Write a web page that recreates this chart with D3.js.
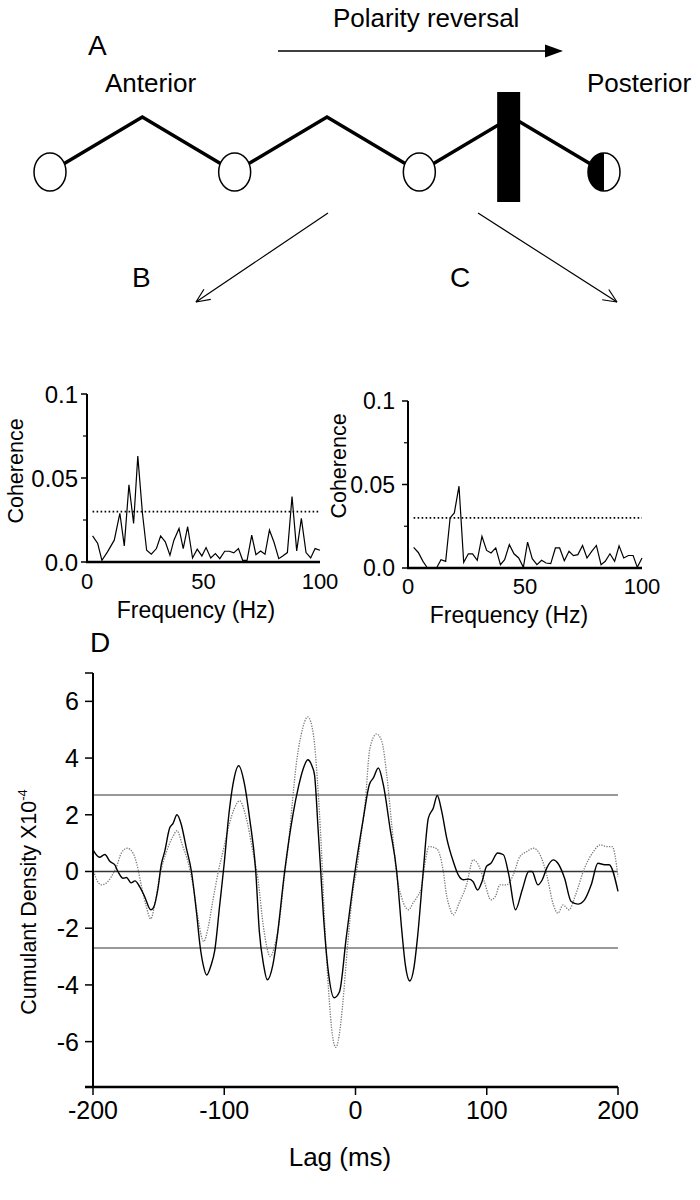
<!DOCTYPE html>
<html><head><meta charset="utf-8">
<script src="https://cdn.jsdelivr.net/npm/d3@7"></script>
<style>
body{margin:0;background:#fff}
svg{display:block}
text{font-family:"Liberation Sans",Arial,Helvetica,sans-serif;fill:#000}
</style>
</head><body>
<svg id="c" width="700" height="1200"></svg>
<script>
// ---------------- DATA ----------------
const electrodes = ["E1","E2","E3","E4"];
const diagramLabels = {title:"Polarity reversal", left:"Anterior", right:"Posterior"};
const panelLetters = ["A","B","C","D"];

const freqB = [2.4,4.6,6.4,8.8,11.7,14.1,16,18,20,21.8,23.8,25.6,27.6,29.8,31.6,33.6,35.6,37.3,39.5,41.3,43.2,45.3,47.3,49.3,51.1,53.1,55.1,57,59.1,61.1,63,65,66.8,68.7,70.7,72.5,74.5,76.4,78.3,80.3,82.3,84,86,88,90,92,94,96,97.9,100];
const cohB = [0.0155,0.011,0.001,0.006,0.013,0.029,0.0096,0.046,0.023,0.063,0.029,0.007,0.0046,0.008,0.0155,0.012,0.004,0.013,0.020,0.008,0.021,0.0024,0.0076,0.0036,0.0086,0.0024,0.005,0.002,0.0064,0.0064,0.0054,0.008,0.001,0.001,0.016,0.0044,0.0066,0.0046,0.019,0.0116,0.002,0.0036,0.0056,0.039,0.0066,0.026,0.0056,0.0024,0.008,0.007];

const freqC = [2.4,4.4,6.4,8.3,10.3,12.2,14.1,16.1,18,19.8,21.8,23.8,25.8,27.6,29.6,31.6,33.6,35.5,37.5,39.5,41.3,43.3,45.3,47.3,49.3,51.1,53.1,55.1,57.1,59,61,63,64.8,66.8,68.8,70.7,72.6,74.6,76.5,78.5,80.5,82.5,84.3,86.3,88.3,90.2,92.2,94.2,96.2,98,100];
const cohC = [0.0123,0.0093,0.004,0,0,0,0.005,0.004,0.030,0.033,0.049,0.0034,0.0085,0.0085,0.0046,0.019,0.0105,0.009,0.012,0.002,0.005,0.014,0.0085,0.006,0.0004,0.0155,0.0056,0.002,0.0046,0.003,0.0026,0.012,0.012,0.0044,0.010,0.0074,0.008,0.0135,0.006,0.010,0.0135,0.002,0.004,0.0085,0.004,0.0133,0.006,0.0075,0.0075,0.0004,0.006];

const cohSignificance = 0.03;
const cohTicks = [0, 0.05, 0.1];
const cohTickLabels = ["0.0", "0.05", "0.1"];
const cohMinorTicks = [0.025, 0.075];
const freqTicks = [0, 50, 100];

const lagSolid = [-200,-195,-191,-187,-183.5,-181,-177,-174.5,-171,-168,-164.5,-160.7,-156,-154,-150.5,-148,-145.4,-141.6,-139,-136,-132.7,-129,-125,-121,-118.5,-116,-113.4,-110,-107.3,-103.5,-100,-96.5,-93.4,-89,-84.5,-80.7,-76,-73.3,-70,-67.2,-63,-59.8,-54,-47.7,-43.4,-40,-36.3,-33,-31.2,-28.5,-26.5,-24.5,-20.7,-16.3,-12.2,-7.1,-0.4,6,10.5,13.6,17.4,21.2,26.3,31.4,35.3,38,41.4,44.5,47.2,51.6,55.5,59.3,62.3,65.7,69.5,74.5,78.3,82.1,86.2,89.5,93,96.4,99.8,103.2,108.3,112.7,116.8,121.9,127,132,134.5,138.9,142.3,145.7,150.8,154.2,159.3,164.3,169.4,174.5,179.6,184.7,189.8,193.2,200];
const cumSolid = [0.76,0.5,0.6,0.35,0.24,0,-0.24,-0.21,-0.4,-0.33,-0.53,-0.88,-1.35,-1.28,-0.6,0.24,0.7,1.53,1.7,2.0,1.65,0.85,0,-1.5,-2.6,-3.3,-3.65,-3.3,-2.8,-1.2,0.3,2.0,3.06,3.73,3.06,1.88,0,-2.1,-3.3,-3.82,-3.3,-2.35,0,2.0,3.0,3.6,3.94,3.7,3.4,1.5,0,-1.5,-3.53,-4.45,-4.24,-2.35,0,1.88,3.06,3.3,3.65,3.06,1.53,0,-2.1,-3.3,-3.86,-3.4,-2.35,0,1.88,2.24,2.68,2.12,1.18,0.35,-0.12,-0.29,-0.27,-0.35,-0.65,-0.35,0.18,0.29,0.65,0.59,-0.12,-1.35,-0.65,0,0,-0.47,-0.29,0.12,0.41,0.29,-0.24,-1.06,-1.15,-1.0,-0.47,0.29,0.24,0.24,-0.7];

const lagDotted = [-200,-198,-193.7,-190,-186,-182,-178.4,-174,-169.5,-166.5,-163,-159.4,-156,-153,-149,-144,-139,-136,-132,-127.7,-123.9,-120,-115.7,-112.4,-108.6,-104.5,-100,-96,-92.5,-88.3,-83.2,-78.2,-74.4,-70,-64.9,-61.5,-58,-54.5,-51,-48,-45.2,-41.4,-36.3,-32,-29,-26,-23.5,-20.5,-17.5,-15,-12.5,-10,-6,-2,1.4,4,7.2,11,16.1,20,23.8,27.6,31.4,35.3,40.4,44,47.2,50,53,56,62,66.9,69.3,72,74.4,79.4,84.6,89.6,93,98.1,103.2,106.6,110,115.1,120.2,125.3,130.4,135.5,140.6,145.7,150.8,154.2,158.2,162.6,167.7,174.5,181.3,186.4,191.5,195.6,200];
const cumDotted = [0.1,-0.2,-0.47,-0.41,-0.18,0.18,0.65,0.82,0.65,0.24,-0.53,-1.24,-1.67,-1.18,-0.12,0.7,1.24,1.44,0.94,0.35,-0.47,-1.65,-2.47,-2.0,-1.0,0,0.9,1.7,2.2,2.49,1.88,0.7,-0.24,-2.0,-3.0,-2.6,-1.76,-0.3,1.0,2.5,3.76,4.82,5.45,4.8,3.2,0.8,-1.8,-4.2,-5.8,-6.2,-5.8,-4.8,-2.6,-0.7,0.2,1.2,2.35,4.35,4.85,4.6,3.41,1.65,-0.12,-0.94,-1.35,-1.1,-0.88,-0.6,0.3,0.88,0.8,0,-0.82,-1.3,-1.53,-1.06,-0.47,0.41,0.29,-0.35,-1.0,-0.88,-0.47,-0.47,-0.12,0.53,0.7,0.82,0.59,-0.12,-1.18,-1.47,-1.18,-1.35,-0.82,0.12,0.7,0.94,0.88,0.88,-0.18];

const confidenceLimit = 2.7;
const cumTicks = [-6,-4,-2,0,2,4,6];
const lagTicks = [-200,-100,0,100,200];

// ---------------- DRAW ----------------
const svg = d3.select("#c");

// ===== Panel A: diagram =====
const gA = svg.append("g");
const ex = d3.scalePoint().domain(electrodes).range([50, 604]);
const eY = 172, peakY = 117;
const zz = [];
electrodes.forEach((e,i)=>{
  zz.push([ex(e), eY]);
  if(i < electrodes.length-1) zz.push([(ex(e)+ex(electrodes[i+1]))/2, peakY]);
});
gA.append("path").attr("d", d3.line()(zz)).attr("fill","none")
  .attr("stroke","#000").attr("stroke-width",3.5).attr("stroke-linejoin","miter");
const barX = (ex("E3")+ex("E4"))/2 - 3;
gA.append("rect").attr("x", barX-11.5).attr("y",92).attr("width",23).attr("height",110).attr("fill","#000");
const rx = 16, ry = 19;
electrodes.forEach((e,i)=>{
  const cx = ex(e);
  gA.append("ellipse").attr("cx",cx).attr("cy",eY).attr("rx",rx).attr("ry",ry)
    .attr("fill","#fff").attr("stroke","#000").attr("stroke-width",1.5);
  if(i === electrodes.length-1){
    gA.append("path").attr("d",`M${cx},${eY-ry} A${rx},${ry} 0 0 0 ${cx},${eY+ry} Z`).attr("fill","#000");
  }
});
gA.append("line").attr("x1",278).attr("x2",548).attr("y1",51).attr("y2",51).attr("stroke","#000").attr("stroke-width",1.6);
gA.append("path").attr("d","M563,51 L545,44.5 L545,57.5 Z").attr("fill","#000");
gA.append("text").attr("x",333).attr("y",27).attr("font-size",26).text(diagramLabels.title);
gA.append("text").attr("x",88).attr("y",55).attr("font-size",28).text(panelLetters[0]);
gA.append("text").attr("x",105).attr("y",92).attr("font-size",26).text(diagramLabels.left);
gA.append("text").attr("x",587).attr("y",92).attr("font-size",26).text(diagramLabels.right);

function openArrow(x1,y1,x2,y2){
  gA.append("line").attr("x1",x1).attr("y1",y1).attr("x2",x2).attr("y2",y2).attr("stroke","#000").attr("stroke-width",1.2);
  const a = Math.atan2(y1-y2, x1-x2), L = 15, w = 0.42;
  [a-w, a+w].forEach(t=>{
    gA.append("line").attr("x1",x2).attr("y1",y2)
      .attr("x2",x2+L*Math.cos(t)).attr("y2",y2+L*Math.sin(t))
      .attr("stroke","#000").attr("stroke-width",1.2);
  });
}
openArrow(328,213,196,302);
openArrow(478,213,617,302);

// ===== Panels B, C: coherence =====
function coherencePanel(opt){
  const g = svg.append("g");
  const x = d3.scaleLinear().domain([0,100]).range(opt.xr);
  const y = d3.scaleLinear().domain([0,0.1]).range(opt.yr);
  g.append("line").attr("x1",x(0)).attr("x2",x(0)).attr("y1",y(0.1)).attr("y2",y(0)).attr("stroke","#000").attr("stroke-width",2);
  cohTicks.forEach((t,i)=>{
    g.append("line").attr("x1",x(0)-6).attr("x2",x(0)).attr("y1",y(t)).attr("y2",y(t)).attr("stroke","#000").attr("stroke-width",1.5);
    g.append("text").attr("x",x(0)-opt.labGap).attr("y",y(t)).attr("dy","0.36em").attr("text-anchor","end").attr("font-size",opt.yFont).text(cohTickLabels[i]);
  });
  cohMinorTicks.forEach(t=>{
    g.append("line").attr("x1",x(0)-4).attr("x2",x(0)).attr("y1",y(t)).attr("y2",y(t)).attr("stroke","#000").attr("stroke-width",1.2);
  });
  g.append("line").attr("x1",x(0)-1).attr("x2",x(100)).attr("y1",y(0)).attr("y2",y(0)).attr("stroke","#000").attr("stroke-width",2.5);
  freqTicks.forEach(t=>{
    g.append("text").attr("x",x(t)).attr("y",opt.xlabY).attr("text-anchor","middle").attr("font-size",22).text(t);
  });
  g.append("line").attr("x1",x(2.4)).attr("x2",x(100)).attr("y1",y(cohSignificance)).attr("y2",y(cohSignificance))
    .attr("stroke","#000").attr("stroke-width",1.8).attr("stroke-dasharray","1.6,2.4");
  const pts = opt.f.map((f,i)=>[f,opt.c[i]]);
  g.append("path").attr("d", d3.line().x(d=>x(d[0])).y(d=>y(d[1]))(pts))
    .attr("fill","none").attr("stroke","#000").attr("stroke-width",1.2);
  g.append("text").attr("transform",`translate(${opt.ytX},${opt.ytY}) rotate(-90)`).attr("text-anchor","middle").attr("font-size",21.5).text("Coherence");
  g.append("text").attr("x",opt.xtX).attr("y",opt.xtY).attr("text-anchor","middle").attr("font-size",23).text("Frequency (Hz)");
  g.append("text").attr("x",opt.letX).attr("y",opt.letY).attr("font-size",28).text(opt.letter);
}
coherencePanel({f:freqB, c:cohB, xr:[87,320], yr:[562,394], labGap:9, yFont:24, xlabY:589,
  ytX:23, ytY:471, xtX:196, xtY:618, letX:132, letY:287, letter:panelLetters[1]});
coherencePanel({f:freqC, c:cohC, xr:[408,642], yr:[568,401], labGap:13, yFont:23, xlabY:594,
  ytX:346, ytY:466, xtX:509, xtY:623, letX:450, letY:287, letter:panelLetters[2]});

// ===== Panel D: cumulant density =====
const gD = svg.append("g");
const xD = d3.scaleLinear().domain([-200,200]).range([93,618]);
const yD = d3.scaleLinear().domain([-7.6,7]).range([1087,673]);
const yBottom = -7.6, yTop = 7;

[confidenceLimit, 0, -confidenceLimit].forEach(v=>{
  gD.append("line").attr("x1",xD(-200)).attr("x2",xD(200)).attr("y1",yD(v)).attr("y2",yD(v))
    .attr("stroke","#333").attr("stroke-width", v===0?1.4:1.1);
});
const lineD = d3.line().x(d=>xD(d[0])).y(d=>yD(d[1])).curve(d3.curveMonotoneX);
gD.append("path").attr("d", lineD(lagDotted.map((l,i)=>[l,cumDotted[i]])))
  .attr("fill","none").attr("stroke","#7a7a7a").attr("stroke-width",1.3).attr("stroke-dasharray","1.3,1.3");
gD.append("path").attr("d", lineD(lagSolid.map((l,i)=>[l,cumSolid[i]])))
  .attr("fill","none").attr("stroke","#000").attr("stroke-width",1.4);

gD.append("line").attr("x1",xD(-200)).attr("x2",xD(-200)).attr("y1",yD(yTop)).attr("y2",yD(yBottom)).attr("stroke","#000").attr("stroke-width",2);
gD.append("line").attr("x1",xD(-200)-8).attr("x2",xD(-200)).attr("y1",yD(yTop)).attr("y2",yD(yTop)).attr("stroke","#000").attr("stroke-width",1.5);
cumTicks.forEach(t=>{
  gD.append("line").attr("x1",xD(-200)-8).attr("x2",xD(-200)).attr("y1",yD(t)).attr("y2",yD(t)).attr("stroke","#000").attr("stroke-width",1.5);
  gD.append("text").attr("x",xD(-200)-14).attr("y",yD(t)).attr("dy","0.36em").attr("text-anchor","end").attr("font-size",25).text(t);
});
gD.append("line").attr("x1",xD(-200)-8).attr("x2",xD(200)).attr("y1",yD(yBottom)).attr("y2",yD(yBottom)).attr("stroke","#000").attr("stroke-width",2.5);
lagTicks.forEach(t=>{
  gD.append("line").attr("x1",xD(t)).attr("x2",xD(t)).attr("y1",yD(yBottom)).attr("y2",yD(yBottom)+8).attr("stroke","#000").attr("stroke-width",1.5);
  gD.append("text").attr("x",xD(t)).attr("y",1119).attr("text-anchor","middle").attr("font-size",25).text(t);
});
gD.append("text").attr("x",340).attr("y",1166).attr("text-anchor","middle").attr("font-size",26).text("Lag (ms)");
const yt = gD.append("text").attr("transform","translate(36,902) rotate(-90)").attr("text-anchor","middle").attr("font-size",21.5);
yt.append("tspan").text("Cumulant Density X10");
yt.append("tspan").attr("font-size",13).attr("dy",-9).text("-4");
gD.append("text").attr("x",90).attr("y",652).attr("font-size",28).text(panelLetters[3]);
</script>
</body></html>
